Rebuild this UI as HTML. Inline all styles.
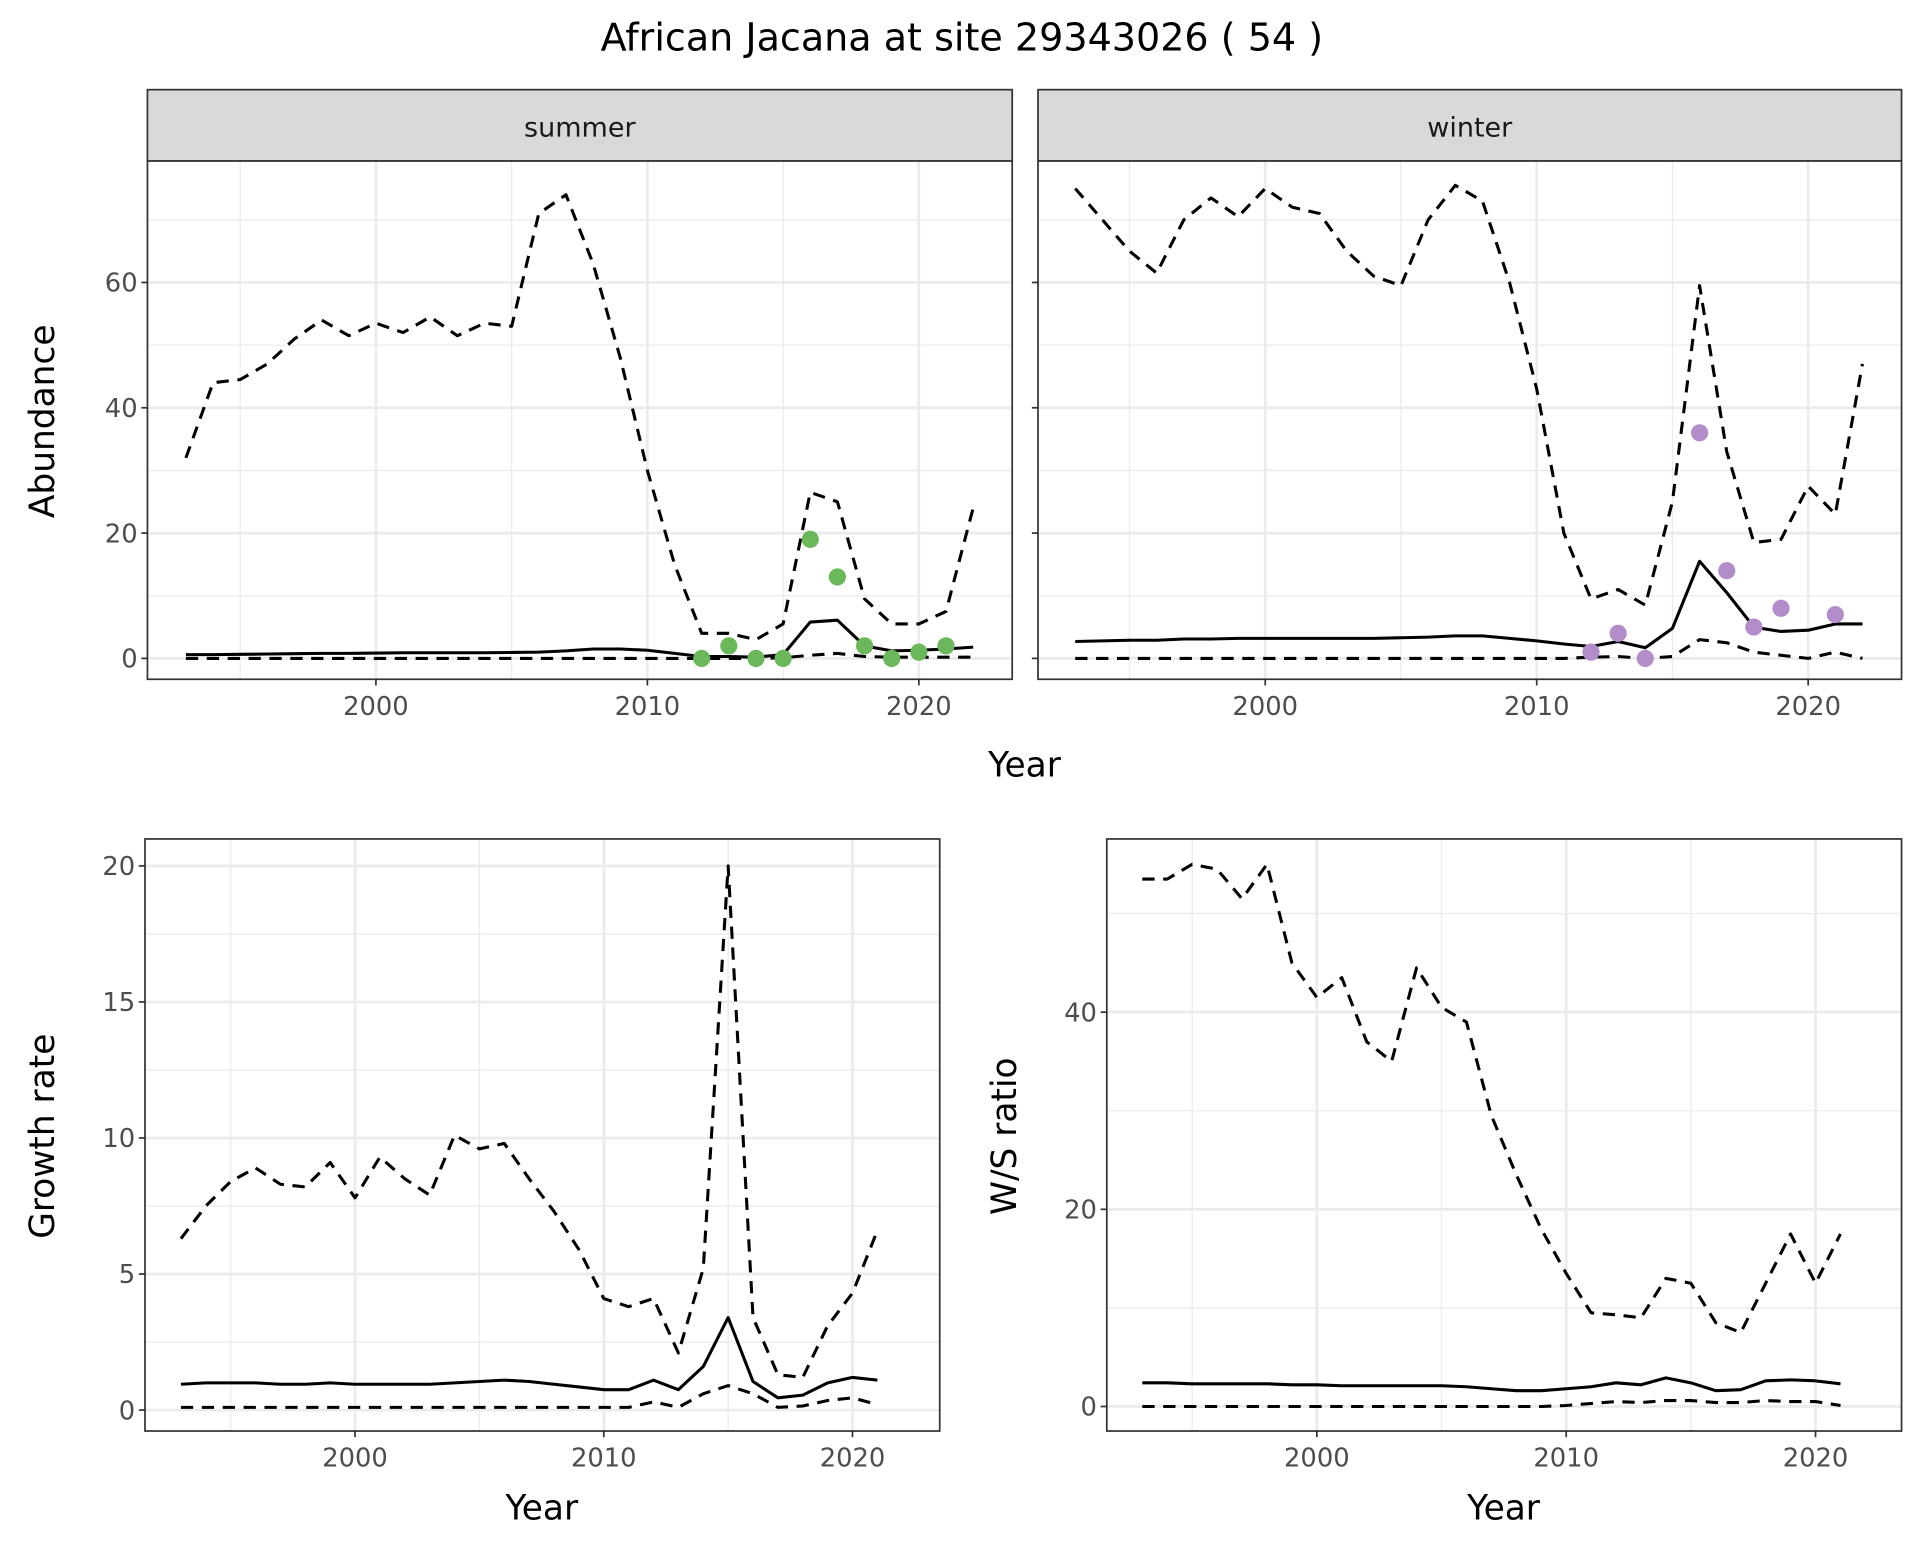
<!DOCTYPE html>
<html><head><meta charset="utf-8"><style>
html,body{margin:0;padding:0;background:#fff;}
svg{display:block;font-family:"DejaVu Sans","Liberation Sans",sans-serif;}
</style></head><body>
<svg id="chart" width="1920" height="1560" viewBox="0 0 1563 1270" xmlns="http://www.w3.org/2000/svg">
<text x="783" y="41" text-anchor="middle" font-size="31" fill="#000">African Jacana at site 29343026 ( 54 )</text>
</svg>
<script>
const yearsA = [1993,1994,1995,1996,1997,1998,1999,2000,2001,2002,2003,2004,2005,2006,2007,2008,2009,2010,2011,2012,2013,2014,2015,2016,2017,2018,2019,2020,2021,2022];
const summerUpper = [32,44,44.5,47,51,54,51.5,53.5,52,54.5,51.5,53.5,53,71,74,63,48,30,15,4,4,3,5.5,26.5,25,9.5,5.5,5.5,7.5,24];
const summerMean = [0.6,0.6,0.65,0.7,0.75,0.8,0.8,0.85,0.9,0.9,0.9,0.9,0.95,1.0,1.2,1.5,1.5,1.3,0.8,0.3,0.3,0.2,0.6,5.8,6.1,2.0,1.2,1.3,1.5,1.8];
const summerLower = [0,0,0,0,0,0,0,0,0,0,0,0,0,0,0,0,0,0,0,0,0,0,0.1,0.5,0.8,0.3,0.2,0.2,0.2,0.2];
const summerObsYears = [2012,2013,2014,2015,2016,2017,2018,2019,2020,2021];
const summerObs = [0,2,0,0,19,13,2,0,1,2];
const winterUpper = [75,70,65,61.5,70,73.5,70.5,75,72,71,65,61,59.5,70,75.5,73,60,43,20,9.5,11,8.5,25,59.5,33,18.5,19,27.5,23,47];
const winterMean = [2.7,2.8,2.9,2.9,3.1,3.1,3.2,3.2,3.2,3.2,3.2,3.2,3.3,3.4,3.6,3.6,3.2,2.8,2.3,1.9,2.7,1.7,4.8,15.5,10.5,5,4.3,4.5,5.5,5.5];
const winterLower = [0,0,0,0,0,0,0,0,0,0,0,0,0,0,0,0,0,0,0,0.2,0.3,0,0.3,3,2.5,1,0.5,0,1,0];
const winterObsYears = [2012,2013,2014,2016,2017,2018,2019,2021];
const winterObs = [1,4,0,36,14,5,8,7];
const yearsB = [1993,1994,1995,1996,1997,1998,1999,2000,2001,2002,2003,2004,2005,2006,2007,2008,2009,2010,2011,2012,2013,2014,2015,2016,2017,2018,2019,2020,2021];
const growthUpper = [6.3,7.5,8.4,8.9,8.3,8.2,9.1,7.8,9.3,8.5,7.9,10.1,9.6,9.8,8.5,7.3,5.9,4.1,3.8,4.1,2.1,5.2,20,3.4,1.3,1.2,3.1,4.3,6.6];
const growthMean = [0.95,1.0,1.0,1.0,0.95,0.95,1.0,0.95,0.95,0.95,0.95,1.0,1.05,1.1,1.05,0.95,0.85,0.75,0.75,1.1,0.75,1.6,3.4,1.05,0.45,0.55,1.0,1.2,1.1];
const growthLower = [0.1,0.1,0.1,0.1,0.1,0.1,0.1,0.1,0.1,0.1,0.1,0.1,0.1,0.1,0.1,0.1,0.1,0.1,0.1,0.3,0.1,0.6,0.9,0.6,0.1,0.15,0.35,0.45,0.2];
const ratioUpper = [53.5,53.5,55,54.5,51.5,55,45,41.5,43.5,37,35,44.5,40.5,39,29.5,23.5,18,13.5,9.5,9.3,9,13,12.5,8.5,7.5,12.5,17.5,12.5,17.5];
const ratioMean = [2.4,2.4,2.3,2.3,2.3,2.3,2.2,2.2,2.1,2.1,2.1,2.1,2.1,2.0,1.8,1.6,1.6,1.8,2.0,2.4,2.2,2.9,2.4,1.6,1.7,2.6,2.7,2.6,2.3];
const ratioLower = [0,0,0,0,0,0,0,0,0,0,0,0,0,0,0,0,0,0.1,0.3,0.5,0.4,0.6,0.6,0.4,0.4,0.6,0.5,0.5,0.1];
const xTicks = [2000,2010,2020];
const xMinor = [1995,2005,2015];
const abundTicks = [0,20,40,60];
const abundMinor = [10,30,50,70];
const growthTicks = [0,5,10,15,20];
const growthMinor = [2.5,7.5,12.5,17.5];
const ratioTicks = [0,20,40];
const ratioMinor = [10,30,50];

const NS = "http://www.w3.org/2000/svg";
const svg = document.getElementById('chart');
function mk(tag, attrs, parent){
  const e = document.createElementNS(NS, tag);
  for (const k in attrs) e.setAttribute(k, attrs[k]);
  (parent||svg).appendChild(e);
  return e;
}

function panel(name, box, xd, yd, majY, minY, showY, series, obs, obsColor){
  const g = mk('g', {});
  
  
  const sx = v => box.x0 + (v - xd[0]) / (xd[1]-xd[0]) * (box.x1 - box.x0);
  const sy = v => box.y1 - (v - yd[0]) / (yd[1]-yd[0]) * (box.y1 - box.y0);
  mk('rect', {x:box.x0, y:box.y0, width:box.x1-box.x0, height:box.y1-box.y0, fill:'#fff'}, g);
  minY.forEach(v => { const l = mk('line', {x1:box.x0, x2:box.x1, y1:sy(v), y2:sy(v), stroke:'#ebebeb', 'stroke-width':1.1}, g);
      });
  xMinor.forEach(v => { const l = mk('line', {x1:sx(v), x2:sx(v), y1:box.y0, y2:box.y1, stroke:'#ebebeb', 'stroke-width':1.1}, g);
      });
  majY.forEach(v => { const l = mk('line', {x1:box.x0, x2:box.x1, y1:sy(v), y2:sy(v), stroke:'#ebebeb', 'stroke-width':2.2}, g);
      });
  xTicks.forEach(v => { const l = mk('line', {x1:sx(v), x2:sx(v), y1:box.y0, y2:box.y1, stroke:'#ebebeb', 'stroke-width':2.2}, g);
      });
  series.forEach(s => {
    const d = s.ys.map((v,i) => (i?'L':'M') + sx(s.xs[i]).toFixed(2) + ',' + sy(v).toFixed(2)).join(' ');
    const p = mk('path', {d:d, fill:'none', stroke:'#000', 'stroke-width':2.5, 'stroke-linejoin':'round'}, g);
    if (s.dash) p.setAttribute('stroke-dasharray', '10 7');
    
    
  });
  if (obs) obs.ys.forEach((v,i) => {
    const c = mk('circle', {cx:sx(obs.xs[i]), cy:sy(v), r:7, fill:obsColor}, g);
    
    
  });
  mk('rect', {x:box.x0, y:box.y0, width:box.x1-box.x0, height:box.y1-box.y0, fill:'none', stroke:'#333', 'stroke-width':1.4}, g);
  xTicks.forEach(v => {
    mk('line', {x1:sx(v), x2:sx(v), y1:box.y1, y2:box.y1+5, stroke:'#333', 'stroke-width':1.4}, g);
    const t = mk('text', {x:sx(v), y:box.y1+29, 'text-anchor':'middle', 'font-size':21, fill:'#4d4d4d'}, g);
    t.textContent = v;
    
    
  });
  majY.forEach(v => {
    mk('line', {x1:box.x0-5, x2:box.x0, y1:sy(v), y2:sy(v), stroke:'#333', 'stroke-width':1.4}, g);
    if (showY) {
      const t = mk('text', {x:box.x0-8, y:sy(v)+7.5, 'text-anchor':'end', 'font-size':21, fill:'#4d4d4d'}, g);
      t.textContent = v;
      
      
    }
  });
}
function strip(label, x0, x1){
  const r = mk('rect', {x:x0, y:73, width:x1-x0, height:58, fill:'#d9d9d9', stroke:'#333', 'stroke-width':1.4});
  
  
  const t = mk('text', {x:(x0+x1)/2, y:111, 'text-anchor':'middle', 'font-size':22, fill:'#1a1a1a'});
  t.textContent = label;
  
  
}
function txt(s, x, y, size, name, rot){
  const t = mk('text', {x:x, y:y, 'text-anchor':'middle', 'font-size':size, fill:'#000'});
  if (rot) t.setAttribute('transform', 'rotate(-90 ' + x + ' ' + y + ')');
  t.textContent = s;
  
  
}

const topYd = [-3.33, 79.4];
panel('summer', {x0:120,x1:824,y0:131,y1:553}, [2000-186/22.1, 2000+518/22.1], topYd, abundTicks, abundMinor, true,
  [{name:'upper',xs:yearsA,ys:summerUpper,dash:true},{name:'mean',xs:yearsA,ys:summerMean},{name:'lower',xs:yearsA,ys:summerLower,dash:true}],
  {xs:summerObsYears, ys:summerObs}, '#6ab85a');
panel('winter', {x0:845,x1:1548,y0:131,y1:553}, [2000-185/22.1, 2000+518/22.1], topYd, abundTicks, abundMinor, false,
  [{name:'upper',xs:yearsA,ys:winterUpper,dash:true},{name:'mean',xs:yearsA,ys:winterMean},{name:'lower',xs:yearsA,ys:winterLower,dash:true}],
  {xs:winterObsYears, ys:winterObs}, '#b28dc9');
strip('summer', 120, 824);
strip('winter', 845, 1548);
txt('Year', 834, 632, 28, 'top-x-axis-title');
txt('Abundance', 44, 343, 28, 'abundance-y-axis-title', true);

panel('growth', {x0:118,x1:765,y0:683,y1:1165}, [2000-171/20.25, 2000+476/20.25], [-0.77, 20.99], growthTicks, growthMinor, true,
  [{name:'upper',xs:yearsB,ys:growthUpper,dash:true},{name:'mean',xs:yearsB,ys:growthMean},{name:'lower',xs:yearsB,ys:growthLower,dash:true}], null, null);
txt('Year', 441, 1237, 28, 'growth-x-axis-title');
txt('Growth rate', 44, 925, 28, 'growth-y-axis-title', true);

panel('ratio', {x0:901,x1:1548,y0:683,y1:1165}, [2000-171/20.3, 2000+476/20.3], [-2.49, 57.57], ratioTicks, ratioMinor, true,
  [{name:'upper',xs:yearsB,ys:ratioUpper,dash:true},{name:'mean',xs:yearsB,ys:ratioMean},{name:'lower',xs:yearsB,ys:ratioLower,dash:true}], null, null);
txt('Year', 1224, 1237, 28, 'ratio-x-axis-title');
txt('W/S ratio', 827, 925, 28, 'ratio-y-axis-title', true);
</script>
</body></html>
